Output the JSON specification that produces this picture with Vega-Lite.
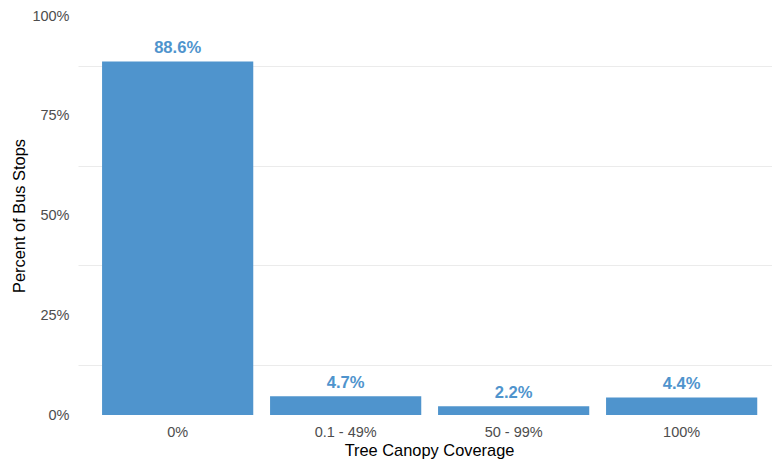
{
  "$schema": "https://vega.github.io/schema/vega-lite/v6.json",
  "autosize": {"type": "none"},
  "padding": {"left": 78, "top": 16, "right": 0, "bottom": 44},
  "width": 694,
  "height": 399,
  "background": "white",
  "config": {
    "view": {"stroke": null},
    "font": "Liberation Sans"
  },
  "data": {
    "values": [
      {"coverage": "0%", "pct": 88.6},
      {"coverage": "0.1 - 49%", "pct": 4.7},
      {"coverage": "50 - 99%", "pct": 2.2},
      {"coverage": "100%", "pct": 4.4}
    ]
  },
  "encoding": {
    "x": {
      "field": "coverage",
      "type": "nominal",
      "sort": null,
      "scale": {"paddingInner": 0.1, "paddingOuter": 0.1155, "align": 0.62},
      "axis": {
        "title": "Tree Canopy Coverage",
        "labelAngle": 0,
        "labelFont": "Liberation Sans",
        "labelFontSize": 14.5,
        "labelColor": "#4d4d4d",
        "labelPadding": 10,
        "ticks": false,
        "domain": false,
        "grid": false,
        "titleFont": "Liberation Sans",
        "titleFontSize": 16.4,
        "titleFontWeight": "normal",
        "titleColor": "#000000",
        "titlePadding": 4,
        "titleX": 351
      }
    },
    "y": {
      "field": "pct",
      "type": "quantitative",
      "scale": {"domain": [0, 100], "nice": false, "zero": true},
      "axis": {
        "title": "Percent of Bus Stops",
        "values": [0, 12.5, 25, 37.5, 50, 62.5, 75, 87.5, 100],
        "labelExpr": "datum.value % 25 === 0 ? datum.value + '%' : ''",
        "labelFont": "Liberation Sans",
        "labelFontSize": 14.5,
        "labelColor": "#4d4d4d",
        "labelPadding": 9,
        "ticks": false,
        "domain": false,
        "grid": true,
        "gridColor": "#ebebeb",
        "gridWidth": 1.2,
        "gridOpacity": {"condition": {"test": "datum.value % 25 === 0", "value": 0}, "value": 1},
        "titleFont": "Liberation Sans",
        "titleFontSize": 16.4,
        "titleFontWeight": "normal",
        "titleColor": "#000000",
        "titlePadding": 4
      }
    }
  },
  "layer": [
    {"mark": {"type": "bar", "color": "#4F94CD"}},
    {
      "mark": {
        "type": "text",
        "color": "#4F94CD",
        "font": "Liberation Sans",
        "fontSize": 16.6,
        "fontWeight": "bold",
        "baseline": "bottom",
        "dy": -5
      },
      "encoding": {
        "text": {"value": {"expr": "format(datum.pct, '.1f') + '%'"}}
      }
    }
  ]
}
